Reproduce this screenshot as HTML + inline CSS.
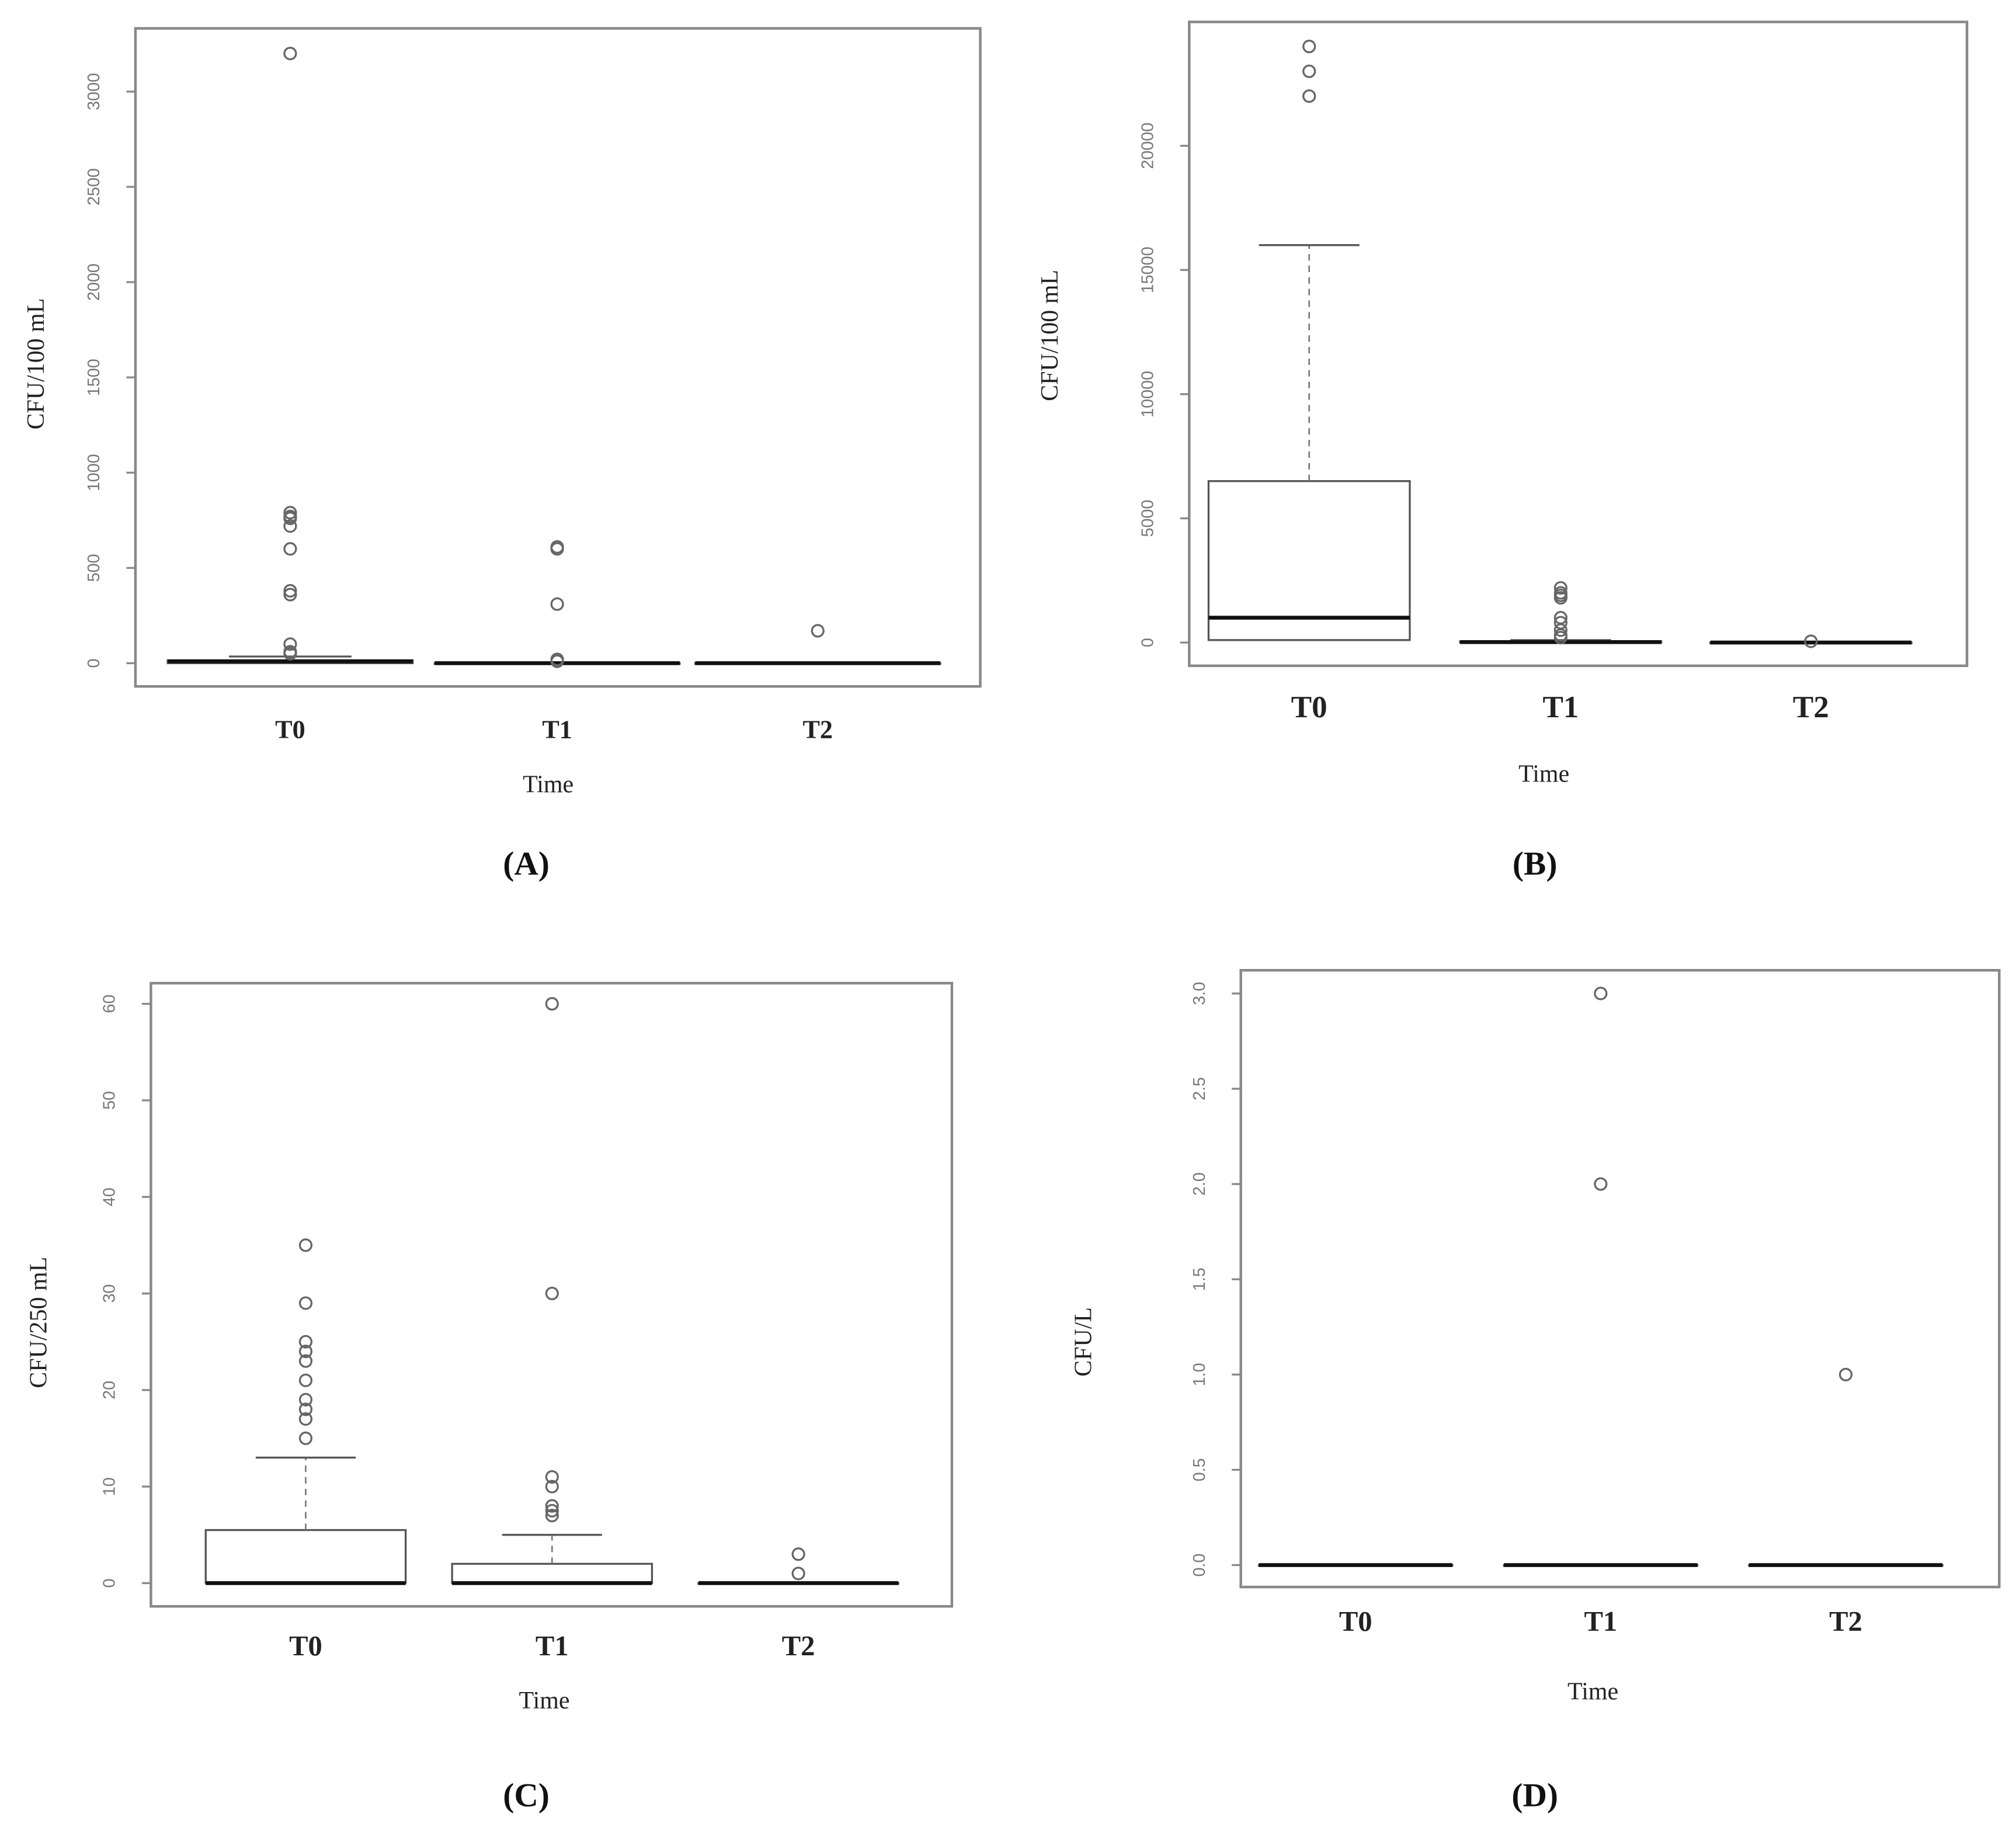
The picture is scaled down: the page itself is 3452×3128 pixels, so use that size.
<!DOCTYPE html>
<html><head><meta charset="utf-8"><style>
html,body{margin:0;padding:0;background:#fff;}
svg{display:block;}
</style></head><body>
<svg id="fig" xmlns="http://www.w3.org/2000/svg" width="3452" height="3128" viewBox="0 0 1563 1416" preserveAspectRatio="none"></svg>
<script>
// Panel A data
const catsA = ["T0","T1","T2"];
const statsA = [[0,0,10,15,35],[0,0,0,0,0],[0,0,0,0,0]]; // min,q1,med,q3,max
const outA = [[3200,790,770,760,720,600,380,360,100,60,50],[610,600,310,20,10],[170]];
const ticksA = [0,500,1000,1500,2000,2500,3000];
// Panel B data
const catsB = ["T0","T1","T2"];
const statsB = [[0,100,1000,6500,16000],[0,0,20,50,100],[0,0,0,0,0]];
const outB = [[24000,23000,22000],[2200,2000,1900,1800,1000,800,500,300,200],[50]];
const ticksB = [0,5000,10000,15000,20000];
// Panel C data
const catsC = ["T0","T1","T2"];
const statsC = [[0,0,0,5.5,13],[0,0,0,2,5],[0,0,0,0,0]];
const outC = [[35,29,25,24,23,21,19,18,17,15],[60,30,11,10,8,7.5,7],[3,1]];
const ticksC = [0,10,20,30,40,50,60];
// Panel D data
const catsD = ["T0","T1","T2"];
const statsD = [[0,0,0,0,0],[0,0,0,0,0],[0,0,0,0,0]];
const outD = [[],[3,2],[1]];
const ticksD = [0,0.5,1,1.5,2,2.5,3];

const svg = document.getElementById('fig');
const NS = 'http://www.w3.org/2000/svg';
function mk(tag, attrs, parent){
  const e = document.createElementNS(NS, tag);
  for (const k in attrs) e.setAttribute(k, attrs[k]);
  (parent||svg).appendChild(e);
  return e;
}
function panel(p){
  const g = mk('g', {});
  
  
  const y = v => p.y0 - (v - p.v0) / (p.v1 - p.v0) * (p.y0 - p.y1);
  const frame = mk('rect', {x:p.L, y:p.T, width:p.R-p.L, height:p.B-p.T, fill:'none', stroke:'#888', 'stroke-width':2}, g);
  
  
  p.ticks.forEach(t => {
    const yy = y(t);
    const tk = mk('line', {x1:p.L-7, x2:p.L, y1:yy, y2:yy, stroke:'#888', 'stroke-width':1.5}, g);
    
    
    const tx = mk('text', {x:p.L-28, y:yy, transform:'rotate(-90 '+(p.L-28)+' '+yy+')', 'text-anchor':'middle', 'font-family':'Liberation Sans, sans-serif', 'font-size':13, fill:'#777'}, g);
    tx.textContent = (p.fmt ? t.toFixed(1) : t);
    
    
  });
  p.cats.forEach((c, i) => {
    const cx = p.xs[i], s = p.stats[i], hw = p.bw/2;
    const bx = mk('rect', {x:cx-hw, y:y(s[3]), width:p.bw, height:Math.max(y(s[1])-y(s[3]),0.5), fill:'none', stroke:'#555', 'stroke-width':1.5}, g);
    
    
    if (s[4] > s[3]) {
      const w = mk('line', {x1:cx, x2:cx, y1:y(s[3]), y2:y(s[4]), stroke:'#777', 'stroke-width':1.2, 'stroke-dasharray':'5,4'}, g);
      
      
      const cap = mk('line', {x1:cx-hw/2, x2:cx+hw/2, y1:y(s[4]), y2:y(s[4]), stroke:'#555', 'stroke-width':1.5}, g);
      
      
    }
    const md = mk('line', {x1:cx-hw, x2:cx+hw, y1:y(s[2]), y2:y(s[2]), stroke:'#111', 'stroke-width':3}, g);
    
    
    p.out[i].forEach(v => {
      const o = mk('circle', {cx:cx, cy:y(v), r:4.5, fill:'none', stroke:'#666', 'stroke-width':1.5}, g);
      
      
    });
    const lb = mk('text', {x:cx, y:p.catY, 'text-anchor':'middle', 'font-family':'Liberation Serif, serif', 'font-weight':'bold', 'font-size':p.catFs, fill:'#222'}, g);
    lb.textContent = c;
    
    
  });
  const xt = mk('text', {x:p.timeX, y:p.timeY, 'text-anchor':'middle', 'font-family':'Liberation Serif, serif', 'font-size':19, fill:'#222'}, g);
  xt.textContent = 'Time';
  
  
  const yt = mk('text', {x:p.ylX, y:p.ylY, transform:'rotate(-90 '+p.ylX+' '+p.ylY+')', 'text-anchor':'middle', 'font-family':'Liberation Serif, serif', 'font-size':19, fill:'#222'}, g);
  yt.textContent = p.ylab;
  
  
  const pl = mk('text', {x:p.capX, y:p.capY, 'text-anchor':'middle', 'font-family':'Liberation Serif, serif', 'font-weight':'bold', 'font-size':26, fill:'#111'}, g);
  pl.textContent = '(' + p.id + ')';
  
  
}
panel({id:'A', L:105, R:760, T:22, B:532, v0:0, v1:3000, y0:514, y1:71, xs:[225,432,634], bw:190, cats:catsA, stats:statsA, out:outA, ticks:ticksA, catY:572, catFs:20, timeX:425, timeY:614, ylX:34, ylY:282, ylab:'CFU/100 mL', capX:408, capY:678});
panel({id:'B', L:922, R:1525, T:17, B:516, v0:0, v1:20000, y0:498, y1:113, xs:[1015,1210,1404], bw:156, cats:catsB, stats:statsB, out:outB, ticks:ticksB, catY:556, catFs:24, timeX:1197, timeY:606, ylX:820, ylY:260, ylab:'CFU/100 mL', capX:1190, capY:678});
panel({id:'C', L:117, R:738, T:762, B:1245, v0:0, v1:60, y0:1227, y1:778, xs:[237,428,619], bw:155, cats:catsC, stats:statsC, out:outC, ticks:ticksC, catY:1283, catFs:22, timeX:422, timeY:1324, ylX:36, ylY:1025, ylab:'CFU/250 mL', capX:408, capY:1400});
panel({id:'D', L:962, R:1550, T:752, B:1230, v0:0, v1:3, y0:1213, y1:770, xs:[1051,1241,1431], bw:150, cats:catsD, stats:statsD, out:outD, ticks:ticksD, fmt:true, catY:1264, catFs:22, timeX:1235, timeY:1317, ylX:846, ylY:1040, ylab:'CFU/L', capX:1190, capY:1400});
</script>
</body></html>
